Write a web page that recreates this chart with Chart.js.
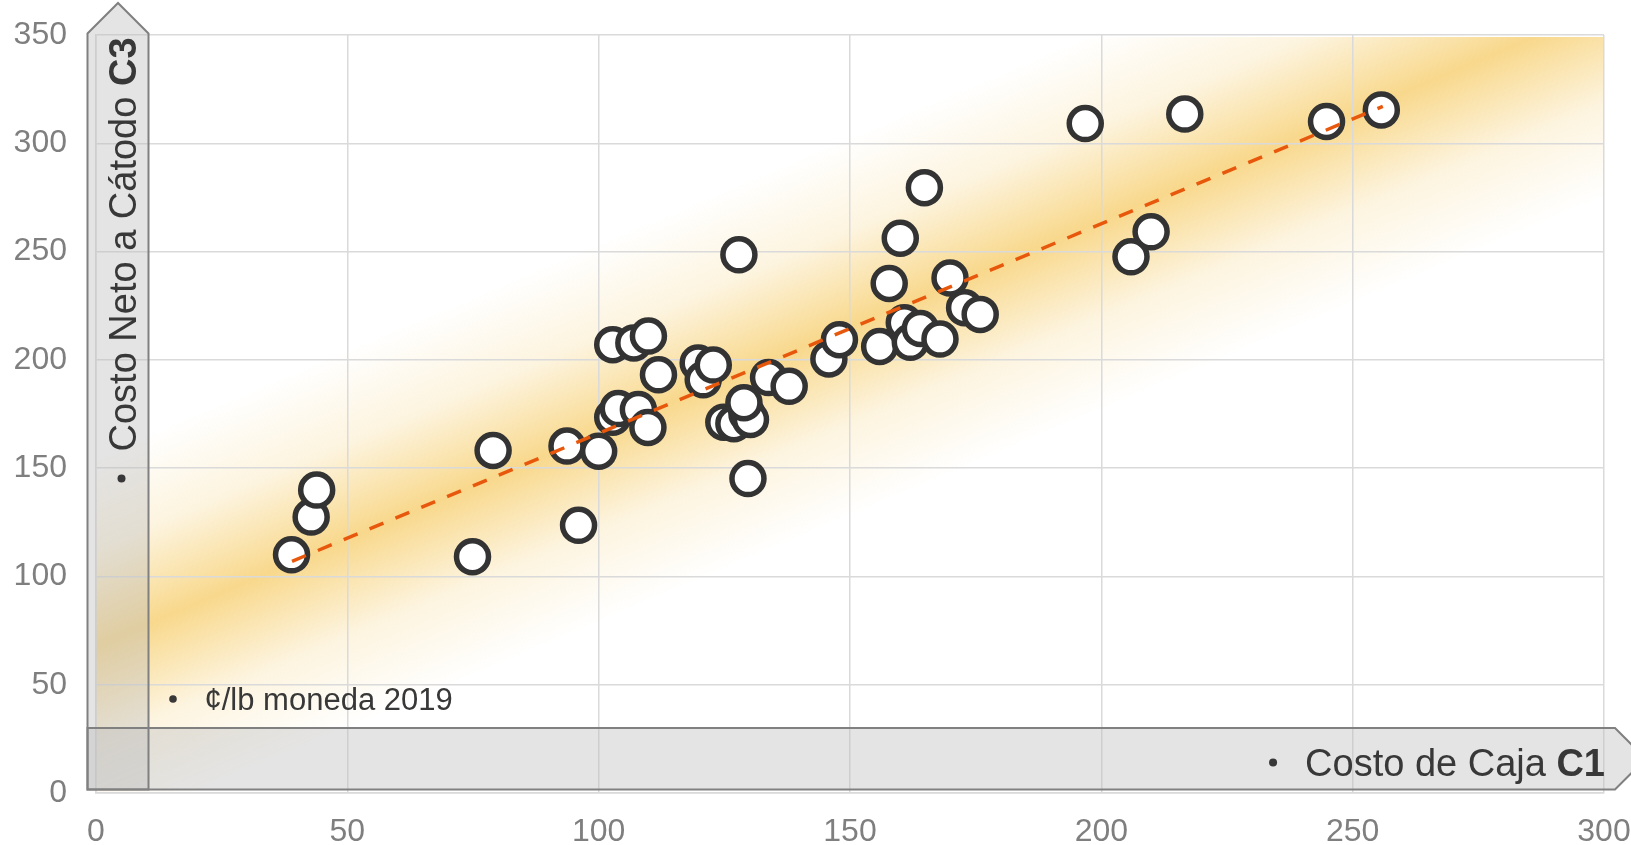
<!DOCTYPE html>
<html lang="es">
<head>
<meta charset="UTF-8">
<title>Costo de Caja C1 vs Costo Neto a Cátodo C3</title>
<script src="https://cdn.jsdelivr.net/npm/chart.js"></script>
<style>
  html, body { margin: 0; padding: 0; background: #fff; }
  .contenedor { position: relative; width: 1631px; height: 845px; }
</style>
</head>
<body>
<div class="contenedor"><canvas id="grafico"></canvas></div>
<script>
// Datos (¢/lb moneda 2019)
const costoCajaC1 = [38.9, 42.8, 43.9, 74.9, 79.0, 93.7, 96.0, 100.0, 102.8, 107.0,
  109.9, 102.8, 103.9, 107.9, 109.8, 111.9, 119.8, 120.8, 122.8, 127.9,
  124.9, 126.9, 129.5, 130.2, 128.9, 129.7, 133.8, 137.9, 145.8, 147.9,
  155.9, 157.8, 160.0, 160.8, 162.0, 164.0, 164.8, 167.9, 169.9, 172.8,
  175.9, 196.8, 205.9, 209.9, 216.6, 244.8, 255.7];
const costoNetoC3 = [110.0, 127.4, 139.9, 109.1, 158.2, 160.2, 123.6, 157.8, 207.0, 207.8,
  211.0, 173.5, 177.5, 177.1, 168.8, 193.1, 198.6, 190.8, 197.6, 248.5,
  171.2, 170.5, 175.0, 172.5, 180.2, 145.2, 191.8, 187.8, 200.4, 209.3,
  206.2, 235.3, 256.2, 217.1, 208.1, 214.5, 279.5, 209.6, 237.8, 224.1,
  221.0, 309.1, 247.6, 259.1, 313.5, 310.1, 315.4];

// Línea de tendencia (extremos)
const tendenciaX = [39, 256];
const tendenciaY = [107, 317];

// Eje central de la franja sombreada
const bandaX = [0, 283];
const bandaY = [68, 346];

// Ejes
const ejeX = { min: 0, max: 300, paso: 50 };
const ejeY = { min: 0, max: 350, paso: 50 };

const FUENTE = "'Liberation Sans', Arial, sans-serif";
Chart.defaults.font.family = FUENTE;

const bandaTendencia = {
  id: 'bandaTendencia',
  beforeDraw(chart) {
    const { ctx, chartArea: a, scales: { x, y } } = chart;
    const x0 = x.getPixelForValue(bandaX[0]), y0 = y.getPixelForValue(bandaY[0]);
    const x1 = x.getPixelForValue(bandaX[1]), y1 = y.getPixelForValue(bandaY[1]);
    const len = Math.hypot(x1 - x0, y1 - y0);
    const nx = -(y1 - y0) / len, ny = (x1 - x0) / len;
    const h = 175;
    const g = ctx.createLinearGradient(x0 - nx * h, y0 - ny * h, x0 + nx * h, y0 + ny * h);
    g.addColorStop(0, 'rgba(248,216,140,0)');
    g.addColorStop(0.25, 'rgba(248,216,140,0.28)');
    g.addColorStop(0.5, 'rgba(248,216,140,1)');
    g.addColorStop(0.75, 'rgba(248,216,140,0.28)');
    g.addColorStop(1, 'rgba(248,216,140,0)');
    ctx.save();
    ctx.fillStyle = g;
    ctx.fillRect(a.left, a.top + 2, a.right - a.left, a.bottom - a.top - 2);
    ctx.restore();
  }
};

function punto(ctx, cx, cy, r) {
  ctx.beginPath();
  ctx.arc(cx, cy, r, 0, Math.PI * 2);
  ctx.fill();
}

const flechas = {
  id: 'flechas',
  afterDraw(chart) {
    const { ctx, chartArea: a } = chart;
    const izq = a.left - 8.5, der = a.left + 52.5, hombro = a.top - 1.5;
    const abajo = a.bottom - 3.5, arriba = a.bottom - 65;
    const punta = a.right + 11;
    const medio = (izq + der) / 2, medioH = (arriba + abajo) / 2;

    const vertical = new Path2D();
    vertical.moveTo(izq, abajo);
    vertical.lineTo(izq, hombro);
    vertical.lineTo(medio, hombro - (der - izq) / 2);
    vertical.lineTo(der, hombro);
    vertical.lineTo(der, abajo);
    vertical.closePath();

    const horizontal = new Path2D();
    horizontal.moveTo(izq, arriba);
    horizontal.lineTo(punta, arriba);
    horizontal.lineTo(punta + (abajo - arriba) / 2, medioH);
    horizontal.lineTo(punta, abajo);
    horizontal.lineTo(izq, abajo);
    horizontal.closePath();

    ctx.save();
    ctx.fillStyle = 'rgba(190,190,190,0.42)';
    ctx.fill(vertical);
    ctx.fill(horizontal);
    ctx.strokeStyle = '#808080';
    ctx.lineWidth = 2;
    ctx.stroke(vertical);
    ctx.stroke(horizontal);

    ctx.fillStyle = '#383838';
    ctx.textBaseline = 'alphabetic';

    // Título vertical
    ctx.save();
    ctx.translate(der - 13, 451.5);
    ctx.rotate(-Math.PI / 2);
    ctx.font = '38px ' + FUENTE;
    ctx.fillText('Costo Neto a Cátodo ', 0, 0);
    const w1 = ctx.measureText('Costo Neto a Cátodo ').width;
    ctx.font = 'bold 38px ' + FUENTE;
    ctx.fillText('C3', w1, 0);
    ctx.restore();
    punto(ctx, medio + 3.5, 478.5, 4);

    // Título horizontal
    ctx.font = '38px ' + FUENTE;
    const t2 = 'Costo de Caja ';
    const w2 = ctx.measureText(t2).width;
    ctx.font = 'bold 38px ' + FUENTE;
    const w3 = ctx.measureText('C1').width;
    const inicio = a.right + 1 - w2 - w3;
    ctx.fillText('C1', inicio + w2, 776);
    ctx.font = '38px ' + FUENTE;
    ctx.fillText(t2, inicio, 776);
    punto(ctx, inicio - 32, 762.5, 4);

    // Unidades
    ctx.font = '31px ' + FUENTE;
    ctx.fillText('¢/lb moneda 2019', 204.5, 710);
    punto(ctx, 173, 699, 3.8);
    ctx.restore();
  }
};

const puntos = costoCajaC1.map((v, i) => ({ x: v, y: costoNetoC3[i] }));
const tendencia = tendenciaX.map((v, i) => ({ x: v, y: tendenciaY[i] }));

const borde = { color: '#dadada', width: 1.5 };
const marcas = { color: '#7f7f7f', font: { size: 32 } };

new Chart(document.getElementById('grafico'), {
  type: 'scatter',
  data: {
    datasets: [
      {
        type: 'line',
        label: 'Tendencia',
        data: tendencia,
        borderColor: '#e8580c',
        borderWidth: 3.5,
        borderDash: [15, 13],
        pointRadius: 0,
        fill: false,
        order: 0
      },
      {
        label: 'Operaciones',
        data: puntos,
        pointRadius: 16,
        pointBorderWidth: 5.5,
        pointBackgroundColor: '#ffffff',
        pointBorderColor: '#333333',
        order: 1
      }
    ]
  },
  options: {
    responsive: true,
    maintainAspectRatio: false,
    animation: false,
    layout: { padding: { top: 35, right: 27, left: 0, bottom: 0 } },
    plugins: { legend: { display: false }, tooltip: { enabled: false } },
    scales: {
      x: {
        type: 'linear',
        min: ejeX.min, max: ejeX.max,
        ticks: { ...marcas, stepSize: ejeX.paso, padding: 0 },
        grid: { color: '#dadada', lineWidth: 1.5, drawTicks: true, tickLength: 20, tickColor: 'rgba(0,0,0,0)' },
        border: borde,
        afterFit(s) { s.height = 52; }
      },
      y: {
        type: 'linear',
        min: ejeY.min, max: ejeY.max,
        ticks: { ...marcas, stepSize: ejeY.paso, padding: 3 },
        grid: { color: '#dadada', lineWidth: 1.5, drawTicks: true, tickLength: 26, tickColor: 'rgba(0,0,0,0)' },
        border: borde,
        afterFit(s) { s.width = 96; }
      }
    }
  },
  plugins: [bandaTendencia, flechas]
});
</script>
</body>
</html>
